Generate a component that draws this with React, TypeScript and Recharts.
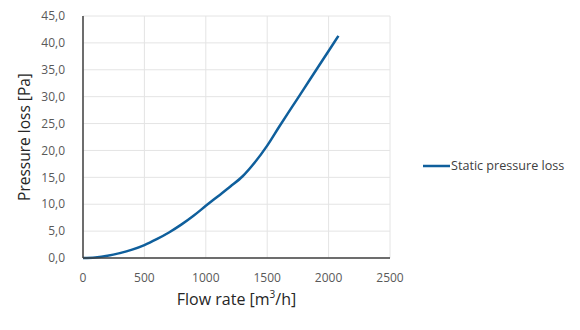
import React from "react";
import {
  LineChart,
  Line,
  XAxis,
  YAxis,
  CartesianGrid,
  Legend,
  Label,
} from "recharts";

// Airflow (m³/h) and the measured static pressure loss (Pa)
const flowRates = [0, 100, 200, 300, 400, 500, 600, 700, 800, 900, 1000, 1100, 1200, 1300, 1400, 1500, 1600, 1700, 1800, 1900, 2000, 2080];
const pressureLoss = [0, 0.1, 0.4, 0.9, 1.55, 2.4, 3.5, 4.75, 6.2, 7.85, 9.7, 11.5, 13.3, 15.2, 17.8, 20.9, 24.5, 28.0, 31.5, 35.0, 38.5, 41.3];

const xTicks = [0, 500, 1000, 1500, 2000, 2500];
const yTicks = [0, 5, 10, 15, 20, 25, 30, 35, 40, 45];

const seriesName = "Static pressure loss";
const lineColor = "#0f5f9c";
const font = "'Open Sans', 'Noto Sans', sans-serif";

const data = flowRates.map((flow, i) => ({ flow, loss: pressureLoss[i] }));

const formatComma = (v: number) => v.toFixed(1).replace(".", ",");

const LegendContent = () => (
  <div style={{ display: "flex", alignItems: "center", fontFamily: font, fontSize: 12.6, color: "#404040" }}>
    <svg width={27} height={10} style={{ marginRight: 1 }}>
      <line x1={0} y1={5} x2={27} y2={5} stroke={lineColor} strokeWidth={2.5} />
    </svg>
    <span>{seriesName}</span>
  </div>
);

export default function App() {
  return (
    <div style={{ position: "absolute", left: 0, top: 0, background: "#fff" }}>
      <LineChart
        width={580}
        height={330}
        data={data}
        margin={{ top: 16, right: 190, bottom: 42, left: 33 }}
      >
        <CartesianGrid stroke="#e4e4e4" strokeWidth={1} horizontal vertical />
        <XAxis
          dataKey="flow"
          type="number"
          domain={[0, 2500]}
          ticks={xTicks}
          tickLine={false}
          axisLine={{ stroke: "#404040", strokeWidth: 1.5 }}
          tick={{ fill: "#595959", fontSize: 12, fontFamily: font }}
          tickMargin={9}
          height={30}
        >
          <Label
            position="bottom"
            content={({ viewBox }: any) => (
              <text
                x={viewBox.x + viewBox.width / 2}
                y={viewBox.y + 47}
                textAnchor="middle"
                fontFamily={font}
                fontSize={16}
                fill="#262626"
              >
                Flow rate [m<tspan baselineShift="super" fontSize={10}>3</tspan>/h]
              </text>
            )}
          />
        </XAxis>
        <YAxis
          type="number"
          domain={[0, 45]}
          ticks={yTicks}
          tickFormatter={formatComma}
          tickLine={false}
          axisLine={{ stroke: "#404040", strokeWidth: 1.5 }}
          tick={{ fill: "#595959", fontSize: 12, fontFamily: font }}
          tickMargin={12}
          width={50}
        >
          <Label
            position="left"
            content={({ viewBox }: any) => (
              <text
                x={0}
                y={0}
                transform={`translate(${viewBox.x - 3}, ${viewBox.y + viewBox.height / 2}) rotate(-90)`}
                textAnchor="middle"
                fontFamily={font}
                fontSize={15.5}
                fill="#262626"
              >
                Pressure loss [Pa]
              </text>
            )}
          />
        </YAxis>
        <Legend
          layout="horizontal"
          verticalAlign="middle"
          align="center"
          wrapperStyle={{ left: 423, top: 157, width: 160 }}
          content={<LegendContent />}
        />
        <Line
          type="monotone"
          dataKey="loss"
          name={seriesName}
          stroke={lineColor}
          strokeWidth={2.5}
          dot={false}
          isAnimationActive={false}
        />
      </LineChart>
    </div>
  );
}
